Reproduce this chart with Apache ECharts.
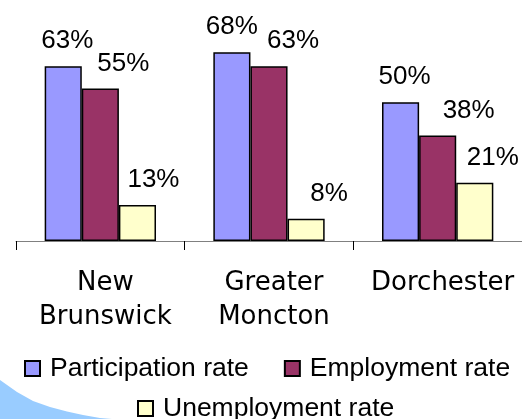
<!DOCTYPE html>
<html>
<head>
<meta charset="utf-8">
<script src="https://cdn.jsdelivr.net/npm/echarts@6/dist/echarts.min.js"></script>
<style>
  html, body { margin: 0; padding: 0; background: #fff; }
  #main { width: 522px; height: 419px; }
</style>
</head>
<body>
<div id="main"></div>
<script>
var regions = ['New\nBrunswick', 'Greater\nMoncton', 'Dorchester'];
var participation = [63, 68, 50];
var employment = [55, 63, 38];
var unemployment = [13, 8, 21];

// labels were nudged by hand in the original slide
var participationShift = [4, 0, 4];
var employmentShift = [23, 24, 31];
var unemploymentShift = [16, 23, 18];

var chartDom = document.getElementById('main');
var myChart = echarts.init(chartDom);

function barLabel() {
  return {
    show: true,
    position: 'top',
    distance: 12,
    formatter: '{c}%',
    fontFamily: 'Liberation Sans, Arial',
    fontSize: 26,
    color: '#000'
  };
}
function withShift(values, shifts) {
  return values.map(function (v, i) {
    return { value: v, label: { offset: [shifts[i], 0] } };
  });
}
var legendText = {
  fontFamily: 'Liberation Sans, Arial',
  fontSize: 26.5,
  color: '#000',
  padding: [0, 0, 0, 5]
};

var option = {
  animation: false,
  backgroundColor: '#fff',
  grid: {
    top: 19,
    left: 16,
    right: 0,
    bottom: 178
  },
  graphic: [{
    // decorative swoosh in the corner of the slide
    type: 'polygon',
    z: -10,
    shape: {
      points: [[0, 380], [17, 392], [33, 401], [50, 407], [67, 411.5],
               [83, 415], [100, 418], [112, 419], [0, 419]]
    },
    style: { fill: '#99ccff' }
  }],
  legend: [{
    data: ['Participation rate', 'Employment rate'],
    top: 355,
    left: 24,
    padding: 0,
    icon: 'rect',
    itemWidth: 15,
    itemHeight: 15,
    itemGap: 35,
    textStyle: legendText
  }, {
    data: ['Unemployment rate'],
    top: 395,
    left: 137,
    padding: 0,
    icon: 'rect',
    itemWidth: 15,
    itemHeight: 15,
    textStyle: legendText
  }],
  xAxis: {
    type: 'category',
    data: regions,
    axisLine: { lineStyle: { color: '#808080', width: 1 } },
    axisTick: { show: true, length: 9, lineStyle: { color: '#000' } },
    axisLabel: {
      interval: 0,
      margin: 25,
      padding: [0, 0, 0, 10],
      fontFamily: 'DejaVu Sans, Verdana',
      fontSize: 26,
      lineHeight: 34,
      color: '#000'
    }
  },
  yAxis: {
    type: 'value',
    min: 0,
    max: 80,
    show: false,
    splitLine: { show: false }
  },
  series: [
    {
      name: 'Participation rate',
      type: 'bar',
      data: withShift(participation, participationShift),
      barGap: '0%',
      barCategoryGap: '34%',
      itemStyle: { color: '#9999ff', borderColor: '#000', borderWidth: 1.5 },
      label: barLabel()
    },
    {
      name: 'Employment rate',
      type: 'bar',
      data: withShift(employment, employmentShift),
      barGap: '0%',
      barCategoryGap: '34%',
      itemStyle: { color: '#993366', borderColor: '#000', borderWidth: 1.5 },
      label: barLabel()
    },
    {
      name: 'Unemployment rate',
      type: 'bar',
      data: withShift(unemployment, unemploymentShift),
      barGap: '0%',
      barCategoryGap: '34%',
      itemStyle: { color: '#ffffcc', borderColor: '#000', borderWidth: 1.5 },
      label: barLabel()
    }
  ]
};

myChart.setOption(option);
</script>
</body>
</html>
